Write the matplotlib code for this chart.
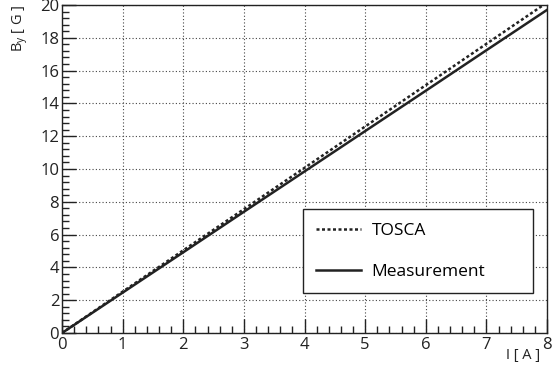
import matplotlib
matplotlib.use("Agg")
import matplotlib.pyplot as plt
from matplotlib.ticker import MultipleLocator
from matplotlib.lines import Line2D

plt.rcParams['font.family'] = ['Open Sans', 'DejaVu Sans']

# current [A]
current = [0, 1, 2, 3, 4, 5, 6, 7, 8]
# field B_y [G]
tosca = [0, 2.52, 5.04, 7.55, 10.07, 12.59, 15.11, 17.63, 20.15]
measurement = [0, 2.46, 4.92, 7.39, 9.85, 12.31, 14.77, 17.24, 19.70]

fig = plt.figure(figsize=(5.52, 3.71), dpi=100)
ax = fig.add_axes([62 / 552, 38 / 371, 485 / 552, 328 / 371])

ax.plot(current, tosca, color="#222222", lw=1.8, ls=(0, (1.2, 1.0)))
ax.plot(current, measurement, color="#222222", lw=1.8)

ax.set_xlim(0, 8)
ax.set_ylim(0, 20)
ax.xaxis.set_major_locator(MultipleLocator(1))
ax.xaxis.set_minor_locator(MultipleLocator(0.2))
ax.yaxis.set_major_locator(MultipleLocator(2))
ax.yaxis.set_minor_locator(MultipleLocator(0.4))
ax.tick_params(which="major", direction="in", length=10, width=1, labelsize=12,
               colors="#222222", top=False, right=False)
ax.tick_params(which="minor", direction="in", length=5, width=1,
               colors="#222222", top=False, right=False)
ax.tick_params(axis="x", pad=3)
ax.tick_params(axis="y", pad=2)
ax.grid(True, which="major", color="#444444", ls=(0, (1, 2)), lw=0.8)
for s in ax.spines.values():
    s.set_color("#222222")
    s.set_linewidth(1)

fig.text(540 / 552, 1 - 356 / 371, "I [ A ]", ha="right", va="center",
         fontsize=10.5, color="#222222")
fig.text(20 / 552, 1 - 4 / 371, "B$_{\\mathregular{y}}$ [ G ]", ha="center", va="top",
         rotation=90, fontsize=10.5, color="#222222")

handles = [Line2D([], [], color="#222222", lw=1.8, ls=(0, (1.2, 1.0))),
           Line2D([], [], color="#222222", lw=1.8)]
leg = ax.legend(handles, ["TOSCA", "Measurement"], loc="lower left",
                bbox_to_anchor=(241 / 485, 40 / 328, 230 / 485, 82 / 328),
                mode="expand", fancybox=False, framealpha=1, edgecolor="#222222",
                fontsize=12.5, handlelength=2.6, labelspacing=1.45, borderpad=0.75,
                handletextpad=0.6, borderaxespad=0)
leg.get_frame().set_linewidth(1)

fig.savefig("out.png", dpi=100)
